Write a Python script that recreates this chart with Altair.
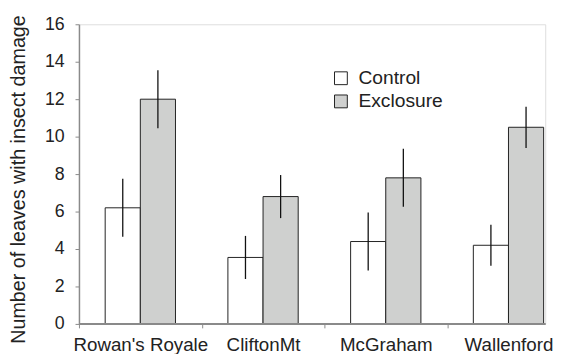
import altair as alt
import pandas as pd

cultivars = ["Rowan's Royale", "CliftonMt", "McGraham", "Wallenford"]
groups = ["Control", "Exclosure"]
control_mean = [6.2, 3.55, 4.4, 4.2]
control_err = [1.55, 1.15, 1.55, 1.1]
exclosure_mean = [12.0, 6.8, 7.8, 10.5]
exclosure_err = [1.55, 1.15, 1.55, 1.1]
y_ticks = [0, 2, 4, 6, 8, 10, 12, 14, 16]

rows = []
for i, c in enumerate(cultivars):
    rows.append({"cultivar": c, "group": "Control", "mean": control_mean[i],
                 "lo": control_mean[i] - control_err[i], "hi": control_mean[i] + control_err[i]})
    rows.append({"cultivar": c, "group": "Exclosure", "mean": exclosure_mean[i],
                 "lo": exclosure_mean[i] - exclosure_err[i], "hi": exclosure_mean[i] + exclosure_err[i]})
df = pd.DataFrame(rows)

FONT = "Liberation Sans"
TXT = "#222222"
AXC = "#8a8a8a"

x_axis = alt.Axis(title=None, labelAngle=0, domain=False, tickBand="extent",
                  tickSize=4, tickColor=AXC, tickWidth=1,
                  labelFont=FONT, labelFontSize=19, labelColor=TXT,
                  labelPadding=7.5)
x_scale = alt.Scale(range=[0, 498], paddingInner=0, paddingOuter=0)
xo_scale = alt.Scale(paddingInner=0, paddingOuter=0.746)

y_axis = alt.Axis(title="Number of leaves with insect damage", values=y_ticks,
                  labelOverlap=False, grid=False, domainColor=AXC, domainWidth=1.5,
                  tickSize=4, tickColor=AXC, tickWidth=1,
                  labelFont=FONT, labelFontSize=18, labelColor=TXT, labelPadding=11,
                  titleFont=FONT, titleFontSize=20, titleFontWeight="normal",
                  titleColor=TXT, titleX=-55, titleY=157, titleAngle=270,
                  titleAlign="center", titleBaseline="alphabetic")
y_scale = alt.Scale(domain=[0, 16], nice=False, zero=True)

bars = alt.Chart(df).mark_bar(stroke="#222222", strokeWidth=1).encode(
    x=alt.X("cultivar:N", sort=cultivars, scale=x_scale, axis=x_axis),
    xOffset=alt.XOffset("group:N", sort=groups, scale=xo_scale),
    y=alt.Y("mean:Q", scale=y_scale, axis=y_axis),
    fill=alt.Fill("group:N", sort=groups,
                  scale=alt.Scale(domain=groups, range=["#ffffff", "#cfd0cf"]),
                  legend=alt.Legend(title=None, orient="none", legendX=256, legendY=45,
                                    symbolType="square", symbolSize=169,
                                    symbolStrokeColor="#222222", symbolStrokeWidth=1,
                                    labelFont=FONT, labelFontSize=19.5, labelColor=TXT,
                                    labelOffset=8, rowPadding=2.5, padding=0)),
)

errs = alt.Chart(df).mark_rule(color="#111111", strokeWidth=1.3).encode(
    x=alt.X("cultivar:N", sort=cultivars, scale=x_scale, axis=x_axis),
    xOffset=alt.XOffset("group:N", sort=groups, scale=xo_scale),
    y=alt.Y("lo:Q", scale=y_scale, axis=y_axis),
    y2="hi:Q",
)

baseline = alt.Chart(df).mark_rule(color=AXC, strokeWidth=1.5).encode(
    y=alt.Y("zero:Q", scale=y_scale, axis=y_axis),
).transform_calculate(zero="0")

chart = alt.layer(bars, errs, baseline).properties(
    width=473, height=304,
    autosize=alt.AutoSizeParams(type="none"),
    padding={"left": 72, "top": 14, "right": 14, "bottom": 28},
).configure_view(stroke=None).configure(background="white")

chart.save("out.html", embed_options={"renderer": "svg", "actions": False})
